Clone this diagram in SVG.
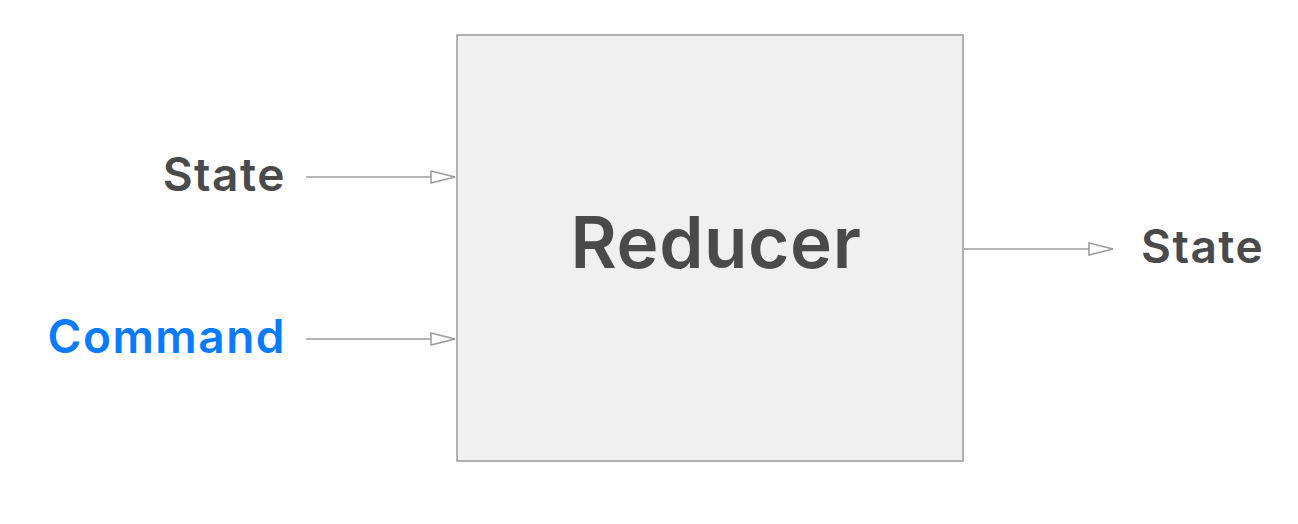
<svg xmlns="http://www.w3.org/2000/svg" width="1298" height="524" viewBox="0 0 1298 524">
  <style>
    .lbl { font-family: Inter, "Liberation Sans", Arial, sans-serif; font-weight: 600; font-size: 46px; letter-spacing: 1.5px; fill: #4a4a4a; }
    .cmd { fill: #0a7aff; }
    .title { font-family: Inter, "Liberation Sans", Arial, sans-serif; font-weight: 600; font-size: 71px; letter-spacing: 0.6px; fill: #4a4a4a; }
    .box { fill: #f0f0f0; stroke: #9b9b9b; stroke-width: 1.5; }
    .conn { stroke: #9b9b9b; stroke-width: 1.5; fill: none; }
  </style>
  <defs>
    <marker id="arrow" viewBox="0 0 26 14" refX="25" refY="7" markerWidth="26" markerHeight="14" markerUnits="userSpaceOnUse" orient="auto">
      <path d="M1,1 L25,7 L1,13 Z" fill="#ffffff" stroke="#9b9b9b" stroke-width="1.5"/>
    </marker>
  </defs>
  <rect width="1298" height="524" fill="#ffffff"/>
  <g id="reducer">
    <rect class="box" x="457" y="35" width="506" height="426"/>
    <text class="title" x="716" y="268" text-anchor="middle">Reducer</text>
  </g>
  <g id="state-in">
    <text class="lbl" x="286" y="190.5" text-anchor="end">State</text>
  </g>
  <g id="command">
    <text class="lbl cmd" x="286" y="353" text-anchor="end">Command</text>
  </g>
  <g id="state-out">
    <text class="lbl" x="1141" y="263" text-anchor="start">State</text>
  </g>
  <g id="connectors">
    <line class="conn" x1="306" y1="177" x2="455" y2="177" marker-end="url(#arrow)"/>
    <line class="conn" x1="306" y1="339" x2="455" y2="339" marker-end="url(#arrow)"/>
    <line class="conn" x1="964" y1="249" x2="1113" y2="249" marker-end="url(#arrow)"/>
  </g>
</svg>
